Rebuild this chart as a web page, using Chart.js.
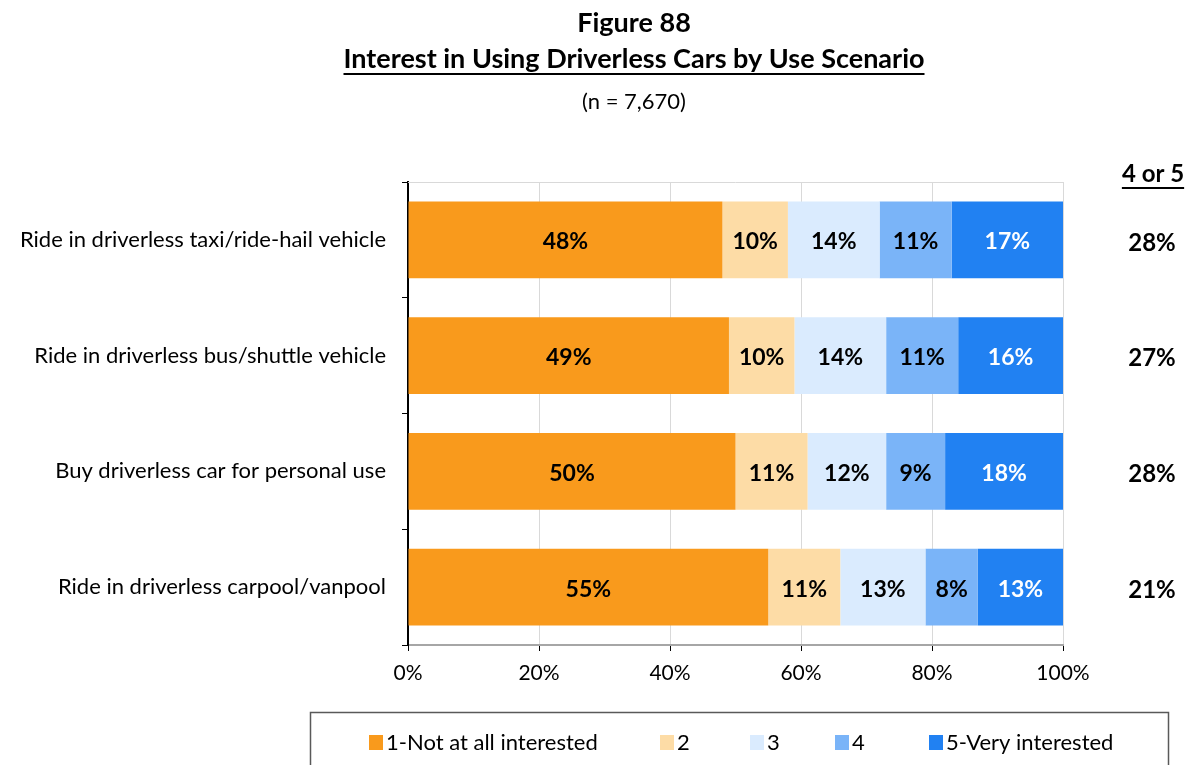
<!DOCTYPE html>
<html>
<head>
<meta charset="utf-8">
<script src="https://cdn.jsdelivr.net/npm/chart.js@4.4.1/dist/chart.umd.min.js"></script>
<style>
  html, body { margin: 0; padding: 0; background: #fff; }
  #wrap { position: relative; width: 1186px; height: 765px; }
</style>
</head>
<body>
<div id="wrap"><canvas id="chart-scenario"></canvas></div>
<script>
(function () {
  'use strict';

  var FONT = "Lato, 'Open Sans', sans-serif";
  Chart.defaults.font.family = FONT;
  Chart.defaults.color = '#000';

  var scenarios = [
    'Ride in driverless taxi/ride-hail vehicle',
    'Ride in driverless bus/shuttle vehicle',
    'Buy driverless car for personal use',
    'Ride in driverless carpool/vanpool'
  ];
  var levels = ['1-Not at all interested', '2', '3', '4', '5-Very interested'];
  var notAtAll = [48, 49, 50, 55];
  var two = [10, 10, 11, 11];
  var three = [14, 14, 12, 13];
  var four = [11, 11, 9, 8];
  var veryInterested = [17, 16, 18, 13];
  var fourOrFive = [28, 27, 28, 21];
  var xTicks = [0, 20, 40, 60, 80, 100];

  var colors = ['#F99A1C', '#FDDCA6', '#DAEBFE', '#7AB4F8', '#2181F2'];
  var labelColors = ['#000', '#000', '#000', '#000', '#fff'];
  var series = [notAtAll, two, three, four, veryInterested];

  var datasets = series.map(function (vals, i) {
    return {
      label: levels[i],
      data: vals,
      backgroundColor: colors[i],
      borderWidth: 0,
      barPercentage: 0.665,
      categoryPercentage: 1
    };
  });

  // headings, segment labels, right-hand summary column, boxed legend
  var decor = {
    id: 'decor',
    afterDatasetsDraw: function (chart) {
      var ctx = chart.ctx;
      ctx.save();
      ctx.textAlign = 'center';
      ctx.textBaseline = 'middle';
      ctx.font = 'bold 23px ' + FONT;
      chart.data.datasets.forEach(function (ds, di) {
        chart.getDatasetMeta(di).data.forEach(function (bar, j) {
          ctx.fillStyle = labelColors[di];
          ctx.fillText(ds.data[j] + '%', (bar.x + bar.base) / 2, bar.y + 2);
        });
      });
      ctx.restore();
    },
    afterDraw: function (chart) {
      var ctx = chart.ctx;
      var area = chart.chartArea;
      var cx = 634;
      ctx.save();

      // top border of plot
      ctx.strokeStyle = '#D9D9D9';
      ctx.lineWidth = 1;
      ctx.beginPath();
      ctx.moveTo(area.left, area.top + 0.5);
      ctx.lineTo(area.right, area.top + 0.5);
      ctx.stroke();

      ctx.fillStyle = '#000';
      ctx.textAlign = 'center';
      ctx.textBaseline = 'middle';
      ctx.font = 'bold 27px ' + FONT;
      ctx.fillText('Figure 88', cx, 23);
      var title = 'Interest in Using Driverless Cars by Use Scenario';
      ctx.fillText(title, cx, 59);
      var w = ctx.measureText(title).width;
      ctx.fillRect(cx - w / 2, 73, w, 2);
      ctx.font = '22px ' + FONT;
      ctx.fillText('(n = 7,670)', cx, 102);

      // 4 or 5 column
      ctx.font = 'bold 24px ' + FONT;
      var hx = 1153;
      ctx.fillText('4 or 5', hx, 174);
      var hw = ctx.measureText('4 or 5').width;
      ctx.fillRect(hx - hw / 2, 187, hw, 2);
      var y = chart.scales.y;
      fourOrFive.forEach(function (v, i) {
        ctx.fillText(v + '%', 1152, y.getPixelForValue(i) + 3);
      });

      // legend box
      ctx.strokeStyle = '#595959';
      ctx.lineWidth = 1.5;
      ctx.strokeRect(310.5, 712.5, 858, 70);
      ctx.font = '22px ' + FONT;
      ctx.textAlign = 'left';
      var starts = [369, 660, 750, 835, 929];
      levels.forEach(function (lab, i) {
        ctx.fillStyle = colors[i];
        ctx.fillRect(starts[i], 735, 14, 15);
        ctx.fillStyle = '#000';
        ctx.fillText(lab, starts[i] + 17, 743);
      });
      ctx.restore();
    }
  };

  new Chart(document.getElementById('chart-scenario'), {
    type: 'bar',
    data: { labels: scenarios, datasets: datasets },
    plugins: [decor],
    options: {
      indexAxis: 'y',
      responsive: true,
      maintainAspectRatio: false,
      animation: false,
      layout: { padding: { top: 182, right: 123, bottom: 70, left: 0 } },
      plugins: { legend: { display: false }, tooltip: { enabled: false } },
      scales: {
        x: {
          stacked: true,
          min: 0,
          max: 100,
          afterBuildTicks: function (scale) {
            scale.ticks = xTicks.map(function (v) { return { value: v }; });
          },
          afterFit: function (scale) { scale.height = 50; },
          ticks: {
            padding: 10,
            font: { size: 21 },
            callback: function (v) { return v + '%'; }
          },
          grid: { color: '#D9D9D9', tickColor: '#000', tickLength: 6, lineWidth: 1 },
          border: { color: '#A6A6A6', width: 2 }
        },
        y: {
          stacked: true,
          afterFit: function (scale) { scale.width = 408; },
          ticks: { padding: 16, font: { size: 22 } },
          grid: { offset: true, drawOnChartArea: false, tickColor: '#000', tickLength: 6 },
          border: { color: '#000', width: 2 }
        }
      }
    }
  });
})();
</script>
</body>
</html>
